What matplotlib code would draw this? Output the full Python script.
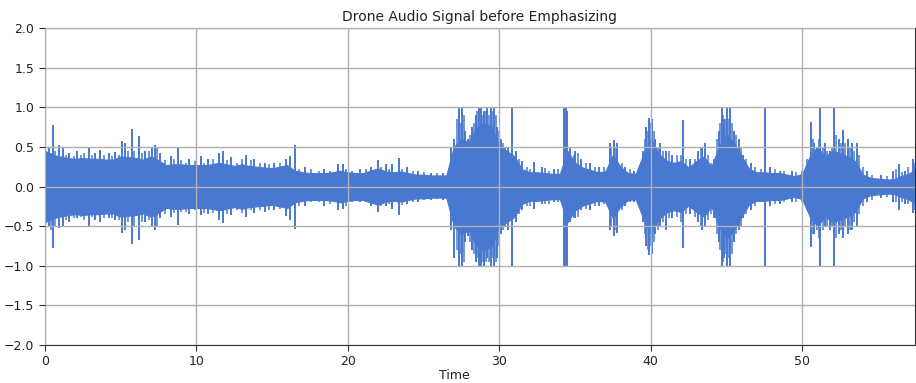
import numpy as np
import matplotlib
matplotlib.use("Agg")
import matplotlib.pyplot as plt

# Body envelope of the waveform, sampled every 0.5 s (seconds 0 .. 57.5)
body_step = 0.5
body_amp = [
    0.45, 0.40, 0.38, 0.36, 0.35, 0.36, 0.35, 0.35, 0.34, 0.34,   # 0 - 4.5
    0.38, 0.37, 0.36, 0.34, 0.38, 0.33, 0.27, 0.28, 0.28, 0.27,   # 5 - 9.5
    0.27, 0.27, 0.28, 0.30, 0.28, 0.26, 0.28, 0.26, 0.25, 0.24,   # 10 - 14.5
    0.23, 0.25, 0.27, 0.20, 0.18, 0.17, 0.17, 0.17, 0.18, 0.20,   # 15 - 19.5
    0.18, 0.17, 0.17, 0.20, 0.23, 0.19, 0.18, 0.19, 0.17, 0.15,   # 20 - 24.5
    0.15, 0.14, 0.14, 0.14, 0.50, 0.60, 0.55, 0.75, 0.80, 0.75,   # 25 - 29.5
    0.50, 0.45, 0.38, 0.22, 0.18, 0.18, 0.17, 0.16, 0.16, 0.45,   # 30 - 34.5
    0.30, 0.24, 0.21, 0.18, 0.19, 0.40, 0.25, 0.17, 0.16, 0.40,   # 35 - 39.5
    0.60, 0.42, 0.33, 0.30, 0.32, 0.24, 0.32, 0.38, 0.25, 0.50,   # 40 - 44.5
    0.65, 0.55, 0.38, 0.22, 0.18, 0.18, 0.17, 0.17, 0.15, 0.13,   # 45 - 49.5
    0.16, 0.38, 0.50, 0.38, 0.45, 0.42, 0.38, 0.32, 0.15, 0.11,   # 50 - 54.5
    0.10, 0.09, 0.09, 0.13, 0.16, 0.22,                           # 55 - 57.5
]

# Prominent individual peaks: time (s), positive peak, negative peak
peak_time = [
    0.25, 0.55, 0.9, 1.2, 1.6, 2.1, 2.9, 3.3, 3.65, 4.2, 4.6, 5.06, 5.3, 5.72,
    6.2, 6.6, 7.1, 7.26, 7.6, 8.3, 8.78, 9.5, 10.3, 10.8, 11.5, 11.76, 12.3,
    13.3, 13.8, 14.5, 15.1, 15.9, 16.2, 16.5, 17.2, 18.4, 19.35, 19.7, 20.8,
    21.5, 21.96, 22.5, 22.9, 23.4, 23.9, 24.6, 25.5, 26.3,
    26.8, 27.0, 27.35, 27.57, 27.75, 27.95, 28.2, 28.45, 28.65, 28.8, 29.0,
    29.2, 29.45, 29.65, 29.85, 30.1, 30.4, 30.6, 30.87, 31.1, 31.5, 32.3, 32.8,
    33.6, 34.25, 34.4, 34.5, 34.7, 35.0, 35.4, 36.0, 36.6, 37.3, 37.55, 37.8,
    38.3, 38.9, 39.5, 39.7, 39.9, 40.1, 40.3, 40.6, 41.0, 41.4, 42.1, 42.6,
    43.1, 43.4, 43.6, 44.2, 44.5, 44.7, 44.85, 45.05, 45.25, 45.5, 45.8, 46.1,
    46.6, 47.55, 47.9, 48.5, 49.3, 50.55, 50.8, 51.2, 51.5, 51.8, 52.1, 52.4,
    52.7, 53.0, 53.3, 53.6, 54.3, 55.2, 56.0, 56.4, 56.8, 57.3,
]
peak_pos = [
    0.50, 0.78, 0.52, 0.50, 0.42, 0.45, 0.50, 0.42, 0.46, 0.42, 0.44, 0.57, 0.55, 0.73,
    0.64, 0.45, 0.50, 0.53, 0.42, 0.38, 0.48, 0.35, 0.38, 0.35, 0.42, 0.45, 0.37,
    0.40, 0.35, 0.30, 0.30, 0.35, 0.38, 0.53, 0.25, 0.22, 0.29, 0.28, 0.22,
    0.25, 0.33, 0.28, 0.28, 0.36, 0.25, 0.20, 0.17, 0.17,
    0.50, 0.60, 1.00, 1.00, 0.70, 0.60, 0.75, 0.90, 1.00, 1.00, 0.95,
    1.00, 1.00, 1.00, 0.75, 0.60, 0.50, 0.50, 1.00, 0.45, 0.32, 0.31, 0.25,
    0.22, 1.00, 1.00, 0.95, 0.50, 0.45, 0.35, 0.30, 0.25, 0.55, 0.59, 0.55,
    0.25, 0.20, 0.45, 0.75, 0.86, 0.85, 0.60, 0.55, 0.45, 0.40, 0.84, 0.35,
    0.45, 0.50, 0.55, 0.35, 0.70, 1.00, 0.85, 1.00, 1.00, 0.70, 0.60, 0.40,
    0.30, 1.00, 0.25, 0.20, 0.20, 0.82, 0.55, 1.00, 0.55, 0.45, 1.00, 0.60,
    0.71, 0.60, 0.55, 0.55, 0.20, 0.15, 0.20, 0.29, 0.20, 0.35,
]
peak_neg = [
    -0.50, -0.78, -0.52, -0.50, -0.45, -0.40, -0.51, -0.42, -0.45, -0.40, -0.42, -0.58, -0.55, -0.73,
    -0.67, -0.45, -0.50, -0.55, -0.40, -0.38, -0.49, -0.35, -0.36, -0.35, -0.42, -0.46, -0.36,
    -0.38, -0.33, -0.32, -0.30, -0.37, -0.42, -0.53, -0.25, -0.24, -0.30, -0.28, -0.20,
    -0.25, -0.32, -0.25, -0.28, -0.36, -0.22, -0.20, -0.17, -0.17,
    -0.55, -0.90, -1.00, -1.00, -0.70, -0.62, -0.80, -0.95, -1.00, -1.00, -1.00,
    -0.90, -1.00, -1.00, -0.90, -0.60, -0.50, -0.55, -1.00, -0.45, -0.30, -0.28, -0.22,
    -0.20, -1.00, -1.00, -1.00, -0.45, -0.40, -0.30, -0.30, -0.24, -0.55, -0.62, -0.58,
    -0.25, -0.20, -0.45, -0.75, -0.87, -0.85, -0.60, -0.50, -0.55, -0.40, -0.78, -0.35,
    -0.45, -0.55, -0.50, -0.40, -0.70, -1.00, -0.90, -1.00, -1.00, -0.70, -0.55, -0.40,
    -0.30, -1.00, -0.25, -0.22, -0.20, -0.76, -0.60, -1.00, -0.50, -0.55, -1.00, -0.60,
    -0.65, -0.60, -0.55, -0.50, -0.20, -0.15, -0.20, -0.30, -0.22, -0.34,
]

# Smaller peaks that give the envelope its ragged edge
texture_time = [
    0.1, 0.4, 0.7, 1.4, 1.9, 2.4, 2.6, 3.1, 3.9, 4.4, 4.9, 5.5, 5.9, 6.4, 6.9, 7.4, 7.9, 8.5, 9.0,
    9.3, 9.9, 10.5, 11.1, 12.0, 12.7, 13.0, 13.6, 14.2, 14.8, 15.5,
    16.8, 17.6, 18.1, 18.8, 19.9, 20.3, 21.2, 22.2, 22.7, 23.6, 24.3, 25.0, 25.9,
    27.2, 27.45, 27.65, 28.05, 28.35, 28.55, 28.9, 29.1, 29.3, 29.55, 29.75, 29.95, 30.25,
    31.3, 31.8, 32.0, 33.0, 33.3, 33.9,
    34.3, 34.9, 35.2, 35.7, 36.3, 36.9, 37.4, 37.7, 38.1, 38.6, 39.2,
    39.6, 39.8, 40.0, 40.2, 40.45, 40.8, 41.2, 41.7, 42.0, 42.3, 42.9, 43.3, 43.8, 44.0,
    44.4, 44.6, 44.8, 44.95, 45.15, 45.35, 45.65, 45.95, 46.3,
    46.9, 47.3, 48.2, 48.8, 49.6, 50.0, 50.3,
    50.7, 50.95, 51.1, 51.35, 51.65, 51.95, 52.25, 52.55, 52.85, 53.15, 53.45, 53.75, 54.0,
    54.6, 55.6, 56.2, 56.6, 57.0, 57.45,
]
texture_pos = [
    0.45, 0.42, 0.45, 0.40, 0.38, 0.40, 0.42, 0.40, 0.40, 0.38, 0.40, 0.45, 0.45, 0.42, 0.45, 0.50, 0.33, 0.35, 0.33,
    0.30, 0.32, 0.30, 0.35, 0.33, 0.30, 0.35, 0.33, 0.30, 0.28, 0.30,
    0.22, 0.22, 0.20, 0.20, 0.22, 0.20, 0.22, 0.25, 0.22, 0.22, 0.20, 0.18, 0.17,
    0.85, 0.80, 0.90, 0.65, 0.80, 0.95, 0.90, 0.95, 0.90, 0.95, 0.90, 0.70, 0.55,
    0.35, 0.25, 0.22, 0.23, 0.20, 0.22,
    1.00, 0.40, 0.42, 0.30, 0.25, 0.25, 0.50, 0.50, 0.30, 0.22, 0.22,
    0.60, 0.70, 0.80, 0.70, 0.50, 0.45, 0.45, 0.40, 0.40, 0.35, 0.35, 0.50, 0.40, 0.30,
    0.60, 0.80, 0.90, 0.85, 0.85, 0.80, 0.65, 0.50, 0.35,
    0.25, 0.22, 0.22, 0.20, 0.18, 0.20, 0.35,
    0.60, 0.50, 0.60, 0.50, 0.45, 0.50, 0.65, 0.55, 0.55, 0.50, 0.45, 0.40, 0.25,
    0.15, 0.13, 0.22, 0.18, 0.25, 0.30,
]
texture_neg = [
    -0.45, -0.55, -0.50, -0.42, -0.40, -0.38, -0.42, -0.38, -0.40, -0.40, -0.42, -0.45, -0.50, -0.45, -0.42, -0.50, -0.35, -0.33, -0.32,
    -0.32, -0.30, -0.33, -0.33, -0.35, -0.30, -0.33, -0.30, -0.30, -0.30, -0.28,
    -0.24, -0.20, -0.20, -0.22, -0.25, -0.20, -0.20, -0.25, -0.22, -0.23, -0.20, -0.17, -0.16,
    -0.80, -0.85, -0.95, -0.70, -0.85, -0.90, -0.95, -0.95, -0.95, -0.90, -0.95, -0.75, -0.55,
    -0.35, -0.25, -0.25, -0.22, -0.22, -0.20,
    -1.00, -0.40, -0.38, -0.28, -0.25, -0.22, -0.50, -0.55, -0.30, -0.20, -0.20,
    -0.60, -0.80, -0.75, -0.70, -0.55, -0.45, -0.40, -0.38, -0.45, -0.35, -0.38, -0.50, -0.42, -0.35,
    -0.60, -0.80, -0.95, -0.85, -0.90, -0.85, -0.60, -0.50, -0.35,
    -0.25, -0.20, -0.22, -0.20, -0.20, -0.20, -0.30,
    -0.60, -0.55, -0.65, -0.55, -0.50, -0.50, -0.65, -0.55, -0.50, -0.55, -0.45, -0.35, -0.25,
    -0.17, -0.13, -0.20, -0.20, -0.22, -0.30,
]

x_ticks = [0, 10, 20, 30, 40, 50]
y_ticks = [-2.0, -1.5, -1.0, -0.5, 0.0, 0.5, 1.0, 1.5, 2.0]
title = "Drone Audio Signal before Emphasizing"
xlabel = "Time"

color = "#4878CF"

fig = plt.figure(figsize=(9.16, 3.83), dpi=100)
ax = fig.add_axes([0.049, 0.099, 0.950, 0.828])

body_t = np.arange(len(body_amp)) * body_step
body = np.array(body_amp)
ax.fill_between(body_t, -body, body, color=color, linewidth=0.8, edgecolor=color)
ax.vlines(texture_time, texture_neg, texture_pos, color=color, linewidth=1.1)
ax.vlines(peak_time, peak_neg, peak_pos, color=color, linewidth=1.4)

ax.set_xlim(0, 57.45)
ax.set_ylim(-2.0, 2.0)
ax.set_xticks(x_ticks)
ax.set_yticks(y_ticks)
ax.set_yticklabels([f"{v:.1f}".replace("-", "\u2212") for v in y_ticks])
ax.tick_params(labelsize=9, length=4, color="#333333", labelcolor="#222222")
ax.set_axisbelow(False)
ax.grid(True, color="#b0b0b0", linewidth=1.0)
for s in ax.spines.values():
    s.set_color("#333333")
ax.set_title(title, fontsize=10, color="#222222", pad=5)
ax.set_xlabel(xlabel, fontsize=9, color="#222222", labelpad=2)
ax.xaxis.set_label_coords(0.471, -0.075)

fig.savefig("out.png", dpi=100)
